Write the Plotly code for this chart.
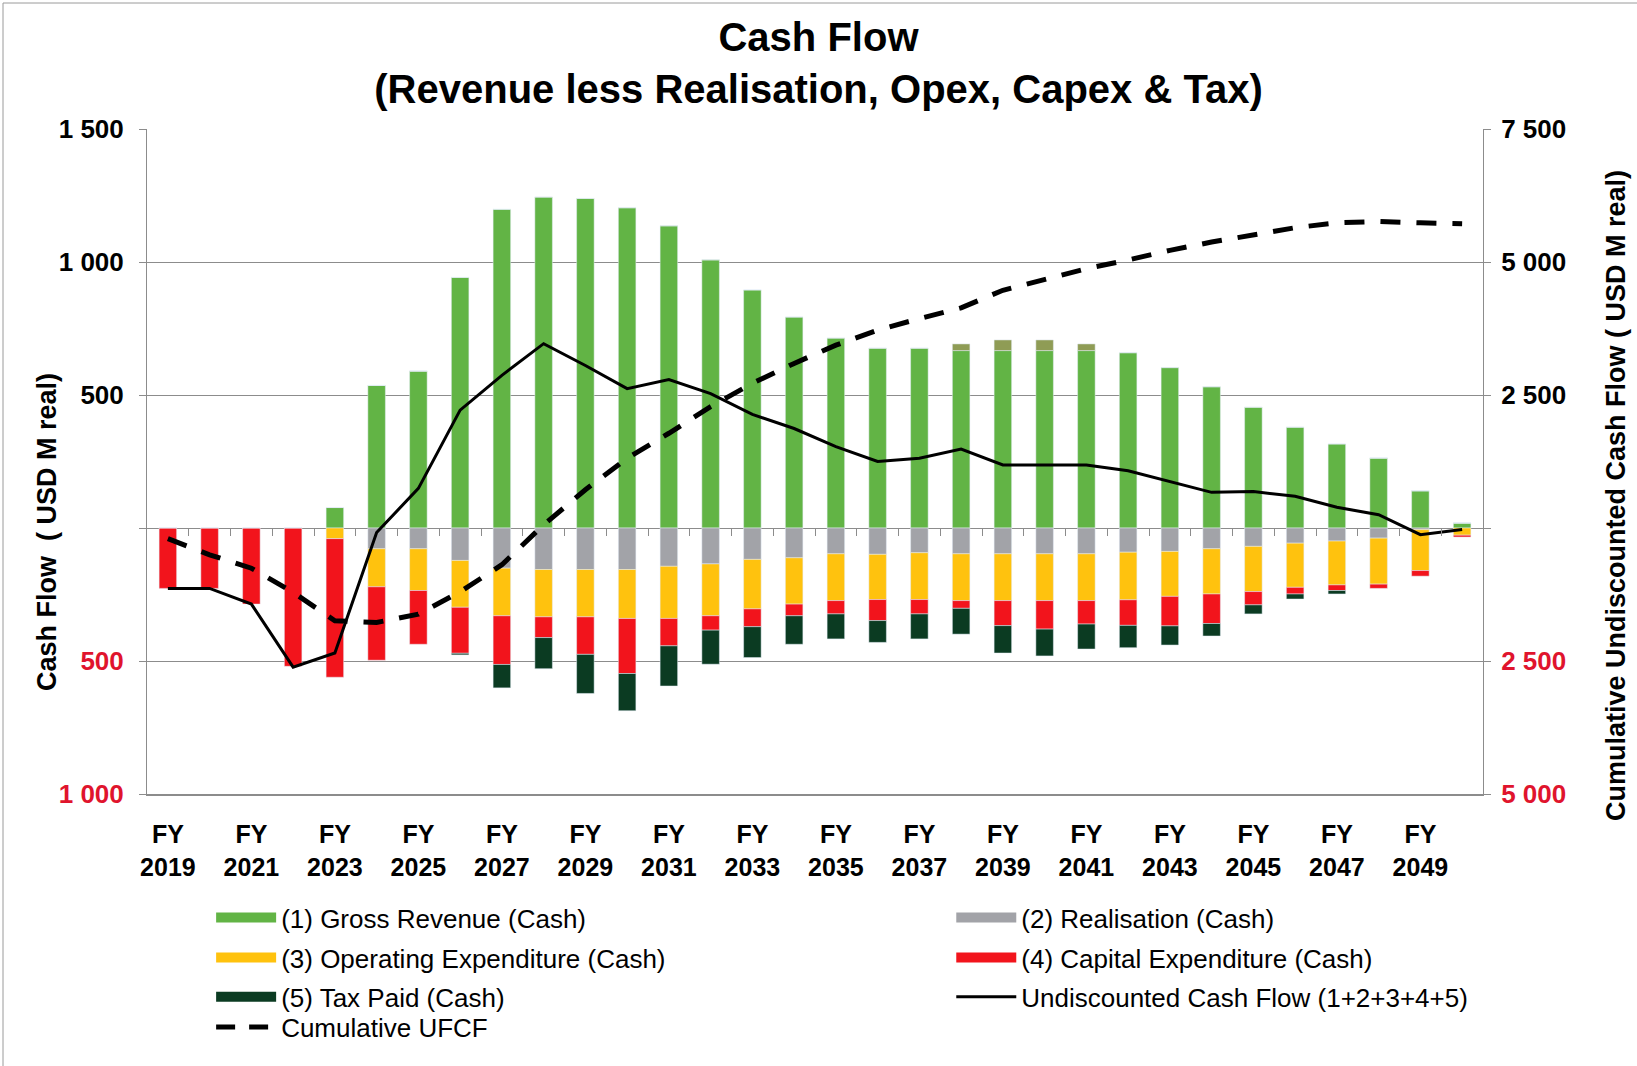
import plotly.graph_objects as go

# years FY2019 .. FY2050
years = list(range(2019, 2051))

# values (USD M real)
gross_revenue = [0, 0, 0, 0, 77, 536, 590, 942, 1198, 1244, 1239, 1204, 1136, 1008, 895, 793,
                 714, 676, 676, 667, 667, 667, 667, 659, 603, 531, 454, 379, 316, 263, 140, 19]
realisation_pos = [0, 0, 0, 0, 0, 0, 0, 0, 0, 0, 0, 0, 0, 0, 0, 0,
                   0, 0, 0, 25, 40, 40, 25, 0, 0, 0, 0, 0, 0, 0, 0, 0]
realisation = [0, 0, 0, 0, 0, -78, -78, -122, -151, -156, -156, -156, -144, -135, -118, -112,
               -97, -99, -93, -97, -97, -97, -97, -91, -88, -78, -69, -57, -49, -38, -6, 0]
opex = [0, 0, 0, 0, -40, -143, -157, -176, -179, -178, -178, -184, -196, -195, -186, -174,
        -176, -170, -176, -176, -176, -176, -176, -179, -169, -170, -170, -166, -165, -173, -154, -27]
capex = [-227, -227, -286, -520, -521, -276, -202, -173, -183, -78, -141, -207, -103, -54, -67, -44,
         -50, -79, -54, -29, -94, -107, -88, -96, -111, -111, -50, -25, -21, -16, -21, -7]
tax = [0, 0, 0, 0, 0, 0, 0, -6, -88, -117, -147, -140, -151, -128, -116, -107,
       -94, -82, -94, -97, -103, -101, -94, -84, -72, -47, -34, -19, -13, 0, 0, 0]
ucf = [-227, -227, -286, -523, -470, -17, 149, 443, 574, 693, 611, 524, 558, 505, 427, 374,
       306, 250, 262, 297, 237, 237, 237, 215, 175, 134, 137, 119, 78, 50, -25, -6]
cumulative = [-200, -504, -756, -1209, -1744, -1776, -1620, -1200, -690, 60, 719, 1312, 1781, 2281, 2719, 3094,
              3437, 3719, 3937, 4137, 4469, 4669, 4875, 5037, 5219, 5375, 5512, 5644, 5737, 5762, 5737, 5719]

# tick labels (negatives shown in red without sign)
left_ticks = [-1000, -500, 0, 500, 1000, 1500]
left_text = ["1 000", "500", "", "500", "1 000", "1 500"]
right_ticks = [-5000, -2500, 0, 2500, 5000, 7500]
right_text = ["5 000", "2 500", "", "2 500", "5 000", "7 500"]
x_ticks = years[::2]
x_text = ["FY<br>%d" % y for y in x_ticks]
# small category-boundary ticks drawn on the zero line
boundary_ticks = [y + 0.5 for y in years[:-1]]

GREEN = "#62b445"
GREY = "#a2a3a8"
YELLOW = "#ffc20e"
RED = "#f2141c"
DKGREEN = "#0b3b22"
OLIVE = "#8f9c55"
NEG = "#e0142d"
AXIS = "#8c8c8c"
FONT = "Liberation Sans, Arial, sans-serif"

W, H = 1637, 1066
L, T, PW, PH = 147, 129, 1336, 665
Y_MIN, Y_MAX = -1000, 1500


def colour_labels(ticks, text):
    out = []
    for v, t in zip(ticks, text):
        out.append("<span style='color:%s'>%s</span>" % (NEG, t) if v < 0 else t)
    return out


fig = go.Figure()

bar_w = 0.42
fig.add_trace(go.Bar(x=years, y=gross_revenue, marker_color=GREEN, width=bar_w, showlegend=False))
fig.add_trace(go.Bar(x=years, y=realisation_pos, marker_color=OLIVE, width=bar_w, showlegend=False))
fig.add_trace(go.Bar(x=years, y=realisation, marker_color=GREY, width=bar_w, showlegend=False))
fig.add_trace(go.Bar(x=years, y=opex, marker_color=YELLOW, width=bar_w, showlegend=False))
fig.add_trace(go.Bar(x=years, y=capex, marker_color=RED, width=bar_w, showlegend=False))
fig.add_trace(go.Bar(x=years, y=tax, marker_color=DKGREEN, width=bar_w, showlegend=False))

fig.add_trace(go.Scatter(x=years, y=ucf, mode="lines", line=dict(color="black", width=3),
                         showlegend=False))
fig.add_trace(go.Scatter(x=years, y=cumulative, mode="lines", yaxis="y2",
                         line=dict(color="black", width=5, dash="20px,16px"), showlegend=False))

# legend entries (one legend box per entry so they sit in a 2-column grid)
legend_items = [
    ("(1) Gross Revenue (Cash)", GREEN, 14, "solid"),
    ("(2) Realisation (Cash)", GREY, 14, "solid"),
    ("(3) Operating Expenditure (Cash)", YELLOW, 14, "solid"),
    ("(4) Capital Expenditure (Cash)", RED, 14, "solid"),
    ("(5) Tax Paid (Cash)", DKGREEN, 14, "solid"),
    ("Undiscounted Cash Flow (1+2+3+4+5)", "black", 3, "solid"),
    ("Cumulative UFCF", "black", 5, "19px,14px"),
]
col_x = [0.048, 0.602]
row_y = [(-0.186, "middle"), (-0.246, "middle"), (-0.305, "middle"), (-0.386, "bottom")]
legend_layouts = {}
for i, (name, col, w, dash) in enumerate(legend_items):
    key = "legend" if i == 0 else "legend%d" % (i + 1)
    ly, anchor = row_y[i // 2]
    fig.add_trace(go.Scatter(x=[None], y=[None], xaxis="x2", mode="lines", name=name, legend=key,
                             line=dict(color=col, width=w, dash=dash)))
    legend_layouts[key] = dict(x=col_x[i % 2], y=ly, xanchor="left", yanchor=anchor,
                               bgcolor="rgba(0,0,0,0)", itemwidth=60,
                               font=dict(family=FONT, size=26, color="black"))

title_font = dict(family=FONT, size=27, weight="bold", color="black")

fig.update_layout(
    width=W, height=H,
    margin=dict(l=L, r=W - L - PW, t=T, b=H - T - PH),
    paper_bgcolor="white", plot_bgcolor="white",
    barmode="relative",
    font=dict(family=FONT, color="black"),
    title=dict(text="Cash Flow<br>(Revenue less Realisation, Opex, Capex & Tax)",
               x=0.5, xanchor="center", y=1 - 51 / H, yanchor="top",
               font=dict(family=FONT, size=40, weight="bold", color="black")),
    xaxis=dict(range=[2018.5, 2050.5], tickvals=x_ticks, ticktext=x_text,
               showgrid=False, zeroline=False, showline=True, linecolor=AXIS, linewidth=2,
               ticks="", ticklabelstandoff=17,
               tickfont=dict(family=FONT, size=25, weight="bold", color="black")),
    xaxis2=dict(range=[2018.5, 2050.5], overlaying="x", anchor="free",
                position=(0 - Y_MIN) / (Y_MAX - Y_MIN), side="bottom",
                tickvals=boundary_ticks, showticklabels=False, ticks="outside", ticklen=7,
                tickcolor=AXIS, showgrid=False, zeroline=False, showline=False),
    yaxis=dict(range=[Y_MIN, Y_MAX], tickvals=left_ticks, ticktext=colour_labels(left_ticks, left_text),
               showgrid=True, gridcolor=AXIS, gridwidth=1,
               zeroline=True, zerolinecolor=AXIS, zerolinewidth=1,
               showline=True, linecolor=AXIS, linewidth=1,
               ticks="outside", ticklen=7, tickcolor=AXIS, ticklabelstandoff=10,
               tickfont=dict(family=FONT, size=26, weight="bold", color="black")),
    yaxis2=dict(range=[-5000, 7500], tickvals=right_ticks, ticktext=colour_labels(right_ticks, right_text),
                overlaying="y", side="right", showgrid=False, zeroline=False,
                showline=True, linecolor=AXIS, linewidth=1,
                ticks="outside", ticklen=7, tickcolor=AXIS, ticklabelstandoff=5,
                tickfont=dict(family=FONT, size=26, weight="bold", color="black")),
    annotations=[
        dict(text="Cash Flow  ( USD M real)", textangle=-90, showarrow=False,
             xref="paper", yref="paper", x=(47 - L) / PW, y=(T + PH - 532) / PH,
             xanchor="center", yanchor="middle", font=title_font),
        dict(text="Cumulative Undiscounted Cash Flow ( USD M real)", textangle=-90, showarrow=False,
             xref="paper", yref="paper", x=(1616 - L) / PW, y=(T + PH - 496) / PH,
             xanchor="center", yanchor="middle", font=title_font),
    ],
    shapes=[dict(type="rect", xref="paper", yref="paper",
                 x0=(3 - L) / PW, x1=(1645 - L) / PW, y0=(T + PH - 1075) / PH, y1=(T + PH - 3) / PH,
                 line=dict(color="#9a9a9a", width=1), layer="below")],
    **legend_layouts,
)

# drop the page's default 8px body margin so the figure sits at the window origin
fig.write_html("out.html", config={"displayModeBar": False},
               post_script="document.body.style.margin='0';")
